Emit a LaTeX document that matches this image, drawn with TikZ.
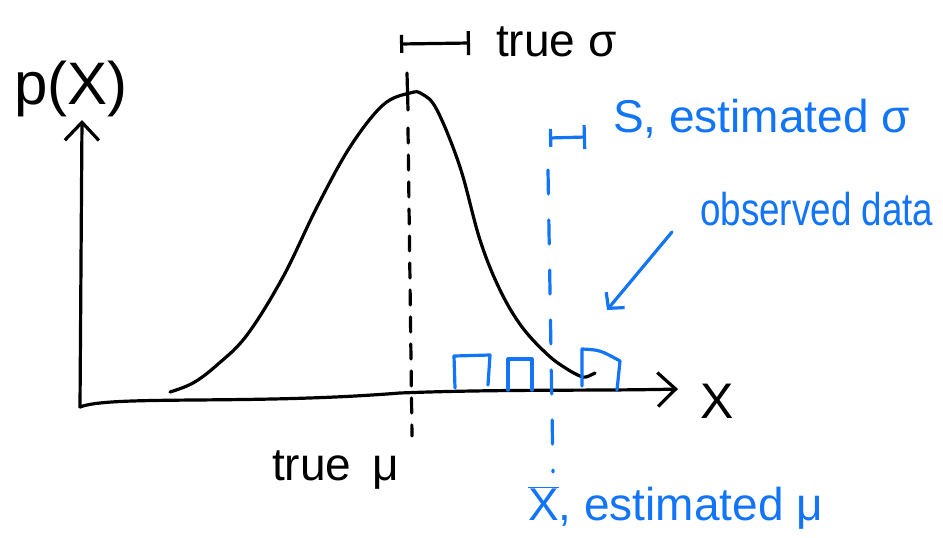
\documentclass[tikz,border=0pt]{standalone}
\usepackage{fontspec}
\setmainfont{Liberation Sans}
\usepackage{tikz}
\usetikzlibrary{arrows.meta,positioning}
\definecolor{penblue}{RGB}{18,116,246}

\begin{document}
\begin{tikzpicture}[
  x=1pt,y=-1pt,
  ink/.style={line width=3.2pt,line cap=round,line join=round},
  blueink/.style={ink,draw=penblue},
  axisline/.style={ink,-{Straight Barb[length=18pt,width=34pt]}},
  pointer/.style={blueink,-{Straight Barb[length=11pt,width=24pt]}},
  sigmaspan/.style={{Bar[width=18pt]}-{Bar[width=24pt]}},
  truemean/.style={ink,dash pattern=on 15pt off 12pt},
  estmean/.style={blueink,dash pattern=on 24pt off 26pt},
  hand/.style={inner sep=0pt,font=\fontsize{46}{52}\selectfont},
  bluehand/.style={hand,text=penblue}
]
\useasboundingbox (0,0) rectangle (943,538);

\coordinate (origin) at (80,407);
\coordinate (ytip) at (82,120);
\coordinate (xtip) at (678,389);
\draw[axisline] (origin) -- (ytip);
\draw[axisline] (origin) .. controls (110,395) and (250,405) .. (400,393)
  .. controls (500,389) and (600,391) .. (xtip);

\draw[ink] plot[smooth,tension=0.6] coordinates {(170,392) (193,383) (217,365) (247,335) (283,277)
  (317,207) (350,147) (383,105) (410,93) (422,94) (437,110) (460,167) (480,240) (500,290)
  (522,327) (548,355) (567,369) (580,376) (586,377) (595,373)};

\draw[ink] (407,73) -- (408,110);
\draw[truemean] (408,128) -- (412,436);
\draw[estmean] (548,170) -- (553,472);

\draw[blueink] (455,388) -- (454,356) -- (490,355) -- (488,385);
\draw[blueink] (508,390) -- (508,359) -- (532,359) -- (532,390);
\draw[blueink] (582,386) -- (582,349) .. controls (600,350) .. (620,361) -- (617,390);

\coordinate (sigL) at (400,44);
\coordinate (sigR) at (470,43);
\draw[ink,sigmaspan] (sigL) -- (sigR);
\coordinate (sL) at (549,138);
\coordinate (sR) at (586,137);
\draw[blueink,sigmaspan] (sL) -- (sR);

\node[hand,font=\fontsize{60}{66}\selectfont,anchor=base west] (plabel) at (14,104) {p(X)};
\node[hand,font=\fontsize{50}{56}\selectfont,anchor=base west] (xlabel) at (700,418) {X};
\node[hand,anchor=base west] (truesigma) at (496,56) {true σ};
\node[hand,anchor=base west] (truemu) at (272,480) {true\hspace{0.45em}μ};
\node[bluehand,anchor=base west] (estsigma) at (613,132) {S, estimated σ};
\node[bluehand,font=\fontsize{46}{52}\selectfont\addfontfeature{FakeStretch=0.8},anchor=base west] (obs) at (700,225) {observed data};
\node[bluehand,anchor=base west] (estmu) at (528,520) {$\overline{\mbox{X}}$, estimated μ};

\coordinate (obsarrow) at (672,232);
\coordinate (obstip) at (607,310);
\draw[pointer] (obsarrow) -- (obstip);
\end{tikzpicture}
\end{document}
